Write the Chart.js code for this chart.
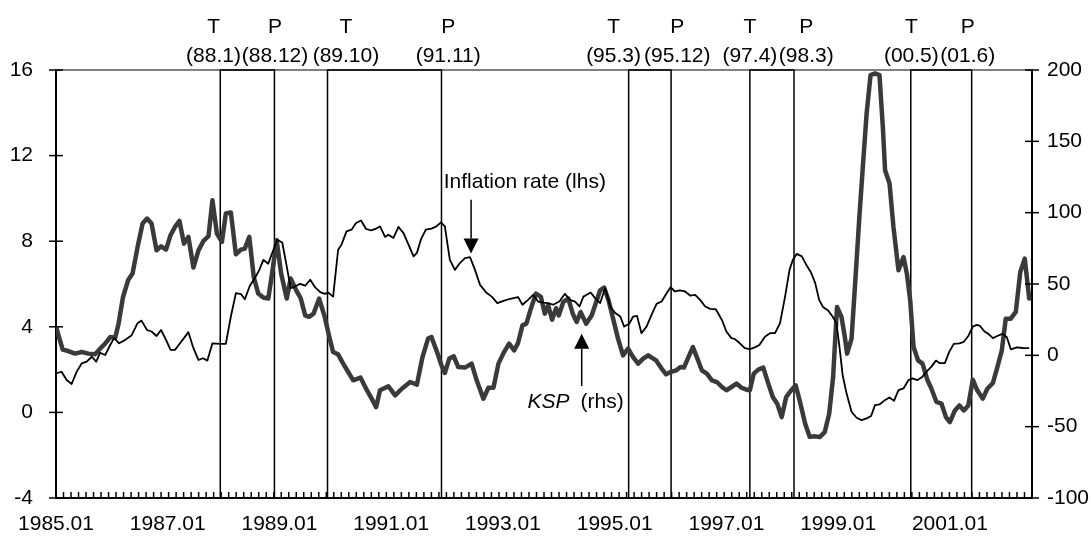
<!DOCTYPE html>
<html>
<head>
<meta charset="utf-8">
<title>Inflation rate and KSP</title>
<script src="https://cdn.jsdelivr.net/npm/chart.js@4.4.1/dist/chart.umd.min.js"></script>
<style>
  html, body { margin: 0; padding: 0; background: #fff; }
  #wrap { width: 1091px; height: 537px; position: relative; }
</style>
</head>
<body>
<div id="wrap"><canvas id="chart"></canvas></div>
<script>
/* Inflation rate (lhs) vs KSP (rhs), 1985.01 - 2002.06
   x values are decimal years */

const INFL_T = [
  1985.01,1985.10,1985.19,1985.28,1985.37,1985.46,1985.55,1985.64,1985.72,1985.79,1985.88,1985.97,
  1986.04,1986.13,1986.24,1986.35,1986.46,1986.53,1986.63,1986.71,1986.80,1986.88,1986.97,
  1987.05,1987.13,1987.22,1987.31,1987.37,1987.46,1987.55,1987.63,1987.71,1987.80,1987.94,
  1988.04,1988.13,1988.22,1988.31,1988.38,1988.47,1988.56,1988.64,1988.71,1988.80,1988.88,1988.96,
  1989.05,1989.13,1989.20,1989.28,1989.37,1989.46,1989.55,1989.64,1989.73,1989.81,1989.87,1989.96,
  1990.05,1990.11,1990.20,1990.29,1990.37,1990.46,1990.55,1990.64,1990.73,1990.80,1990.89,1990.95,
  1991.04,1991.13,1991.22,1991.31,1991.40,1991.46,1991.53,1991.62,1991.72,1991.81,1991.89,1991.96,
  1992.05,1992.14,1992.23,1992.32,1992.41,1992.50,1992.59,1992.70,1992.80,1992.90,
  1993.01,1993.13,1993.27,1993.35,1993.45,1993.54,1993.63,1993.72,1993.81,1993.90,
  1994.01,1994.11,1994.20,1994.29,1994.37,1994.44,1994.57,1994.65,1994.74,1994.83,1994.92,
  1995.01,1995.10,1995.17,1995.26,1995.33,1995.40,1995.48,1995.57,1995.66,1995.75,1995.84,1995.93,
  1996.00,1996.08,1996.17,1996.26,1996.35,1996.44,1996.53,1996.62,1996.71,1996.81,1996.92,
  1997.00,1997.09,1997.15,1997.24,1997.33,1997.42,1997.51,1997.59,1997.69,1997.78,1997.87,1997.96,
  1998.05,1998.13,1998.19,1998.26,1998.35,1998.44,1998.51,1998.59,1998.66,1998.73,1998.82,1998.90,1998.97,
  1999.03,1999.08,1999.15,1999.24,1999.33,1999.42,1999.51,1999.59,1999.66,1999.74,1999.82,1999.92,
  2000.00,2000.08,2000.17,2000.26,2000.33,2000.42,2000.51,2000.60,2000.67,2000.75,2000.82,2000.91,2000.99,
  2001.07,2001.17,2001.25,2001.33,2001.41,2001.48,2001.54,2001.62,2001.69,2001.77,2001.85,2001.94,
  2002.02,2002.09,2002.20,2002.31,2002.42
];
const INFL_V = [
  1.83,1.90,1.51,1.33,1.90,2.29,2.37,2.60,2.37,2.79,2.68,3.15,
  3.47,3.23,3.39,3.59,4.17,4.29,3.85,3.78,3.57,3.85,3.39,
  2.92,2.92,3.23,3.54,3.75,3.00,2.45,2.53,2.42,3.23,3.20,
  3.20,4.48,5.57,5.53,5.29,5.92,6.28,6.66,7.13,6.95,7.52,8.07,
  7.94,6.82,5.81,5.88,6.01,5.92,6.20,5.84,5.62,5.54,5.60,5.41,
  7.60,7.84,8.46,8.54,8.85,8.97,8.57,8.51,8.59,8.69,8.20,8.30,
  8.15,8.67,8.38,7.84,7.29,7.45,8.07,8.54,8.59,8.69,8.88,8.69,
  7.13,6.66,6.98,7.21,7.26,6.66,5.96,5.60,5.41,5.11,
  5.21,5.31,5.39,5.03,5.26,5.49,5.18,5.13,5.11,5.03,
  5.18,5.54,5.26,5.18,4.95,5.41,5.60,5.34,5.11,5.81,4.95,
  4.64,4.48,4.01,4.14,4.48,4.51,3.70,4.01,4.56,5.07,5.18,5.57,
  5.85,5.65,5.70,5.65,5.46,5.49,5.26,4.95,4.84,4.82,4.32,
  3.78,3.47,3.43,3.23,3.00,2.96,3.04,3.15,3.54,3.70,3.70,4.17,
  5.41,6.66,7.13,7.41,7.29,6.85,6.56,6.04,5.26,4.92,4.76,4.48,4.17,
  2.92,1.75,0.89,0.03,-0.25,-0.36,-0.28,-0.17,0.34,0.37,0.54,0.70,
  0.54,1.04,1.12,1.51,1.59,1.51,1.67,1.95,2.14,2.42,2.30,2.30,2.84,
  3.20,3.23,3.30,3.57,4.01,4.09,4.04,3.78,3.67,3.47,3.57,3.67,
  3.51,2.95,3.04,3.01,3.00
];

const KSP_T = [
  1985.01,1985.12,1985.22,1985.34,1985.46,1985.58,1985.70,1985.79,1985.88,1985.97,
  1986.06,1986.12,1986.20,1986.29,1986.37,1986.46,1986.55,1986.63,1986.71,1986.80,1986.88,1986.97,
  1987.05,1987.13,1987.21,1987.29,1987.37,1987.46,1987.55,1987.64,1987.73,1987.80,1987.88,1987.97,
  1988.04,1988.13,1988.22,1988.31,1988.38,1988.46,1988.54,1988.62,1988.71,1988.80,1988.88,1988.95,
  1989.03,1989.13,1989.20,1989.30,1989.38,1989.46,1989.53,1989.61,1989.71,1989.81,1989.90,1989.96,
  1990.05,1990.14,1990.23,1990.32,1990.45,1990.56,1990.65,1990.73,1990.80,1990.95,
  1991.07,1991.19,1991.34,1991.46,1991.56,1991.66,1991.72,1991.81,1991.90,1991.96,
  1992.04,1992.12,1992.20,1992.32,1992.44,1992.53,1992.65,1992.74,1992.83,1992.92,
  1993.02,1993.11,1993.20,1993.27,1993.35,1993.42,1993.50,1993.59,1993.68,1993.75,1993.81,1993.88,1993.95,1994.00,
  1994.08,1994.17,1994.25,1994.32,1994.39,1994.49,1994.59,1994.68,1994.74,1994.81,1994.89,1994.98,
  1995.06,1995.15,1995.24,1995.33,1995.42,1995.51,1995.60,1995.74,1995.84,1995.92,
  1996.00,1996.10,1996.18,1996.24,1996.32,1996.40,1996.47,1996.56,1996.65,1996.74,1996.83,1996.92,
  1997.00,1997.09,1997.18,1997.27,1997.36,1997.42,1997.49,1997.57,1997.66,1997.75,1997.83,1997.91,1997.99,
  1998.07,1998.15,1998.24,1998.32,1998.41,1998.49,1998.59,1998.67,1998.76,1998.84,1998.91,1998.98,
  1999.06,1999.12,1999.16,1999.24,1999.30,1999.38,1999.45,1999.51,1999.58,1999.66,1999.74,1999.80,1999.84,1999.92,1999.99,
  2000.08,2000.17,2000.23,2000.29,2000.35,2000.43,2000.51,2000.60,2000.67,2000.76,2000.85,2000.93,
  2001.00,2001.09,2001.17,2001.25,2001.33,2001.41,2001.49,2001.59,2001.67,2001.77,2001.85,2001.93,
  2002.00,2002.09,2002.18,2002.26,2002.34,2002.42
];
const KSP_V = [
  18.7,4.0,3.0,1.2,2.3,1.2,0.7,4.7,8.2,12.8,
  12.4,22.2,40.9,52.6,57.3,75.9,92.4,95.9,92.4,73.6,76.4,74.1,
  84.2,90.0,94.2,78.3,83.0,61.5,73.6,80.2,83.5,108.7,85.3,79.5,
  99.4,100.1,70.8,74.1,74.8,83.0,54.9,43.3,40.5,39.8,60.8,80.6,
  57.3,39.8,53.8,45.6,40.0,28.0,27.0,29.2,39.8,26.9,11.7,2.3,
  0.7,-5.8,-11.7,-17.5,-15.6,-24.1,-30.4,-36.3,-24.5,-21.7,
  -28.1,-23.4,-18.7,-20.5,-1.2,11.7,12.8,3.5,-7.0,-12.4,
  -2.3,-0.7,-8.2,-8.6,-5.8,-17.5,-30.4,-22.7,-22.7,-5.8,
  2.3,8.2,3.5,8.6,21.0,22.2,32.7,43.3,40.9,29.2,35.0,25.0,33.0,28.0,
  37.4,39.8,29.2,23.4,30.4,22.2,28.1,38.6,45.6,47.5,38.6,24.5,
  11.7,0.0,4.7,-1.2,-5.8,-2.3,0.0,-3.5,-9.3,-13.3,
  -11.7,-10.5,-8.2,-8.6,-1.2,5.8,-1.2,-10.5,-12.8,-17.5,-18.7,-22.2,
  -24.5,-22.2,-19.8,-22.7,-24.1,-24.5,-12.8,-10.0,-8.6,-19.8,-29.2,-33.9,-43.3,
  -29.2,-25.0,-21.0,-33.0,-48.0,-57.0,-56.8,-57.3,-53.8,-40.9,-15.2,33.9,
  26.9,12.8,1.2,11.7,47.9,97.0,136.7,169.5,196.4,197.6,196.4,160.1,129.7,120.4,90.0,
  59.6,68.9,57.3,38.6,5.8,-3.5,-5.8,-17.5,-23.4,-32.7,-33.9,-43.3,
  -46.8,-38.6,-35.1,-38.6,-35.1,-17.1,-24.5,-30.4,-23.4,-19.4,-8.2,3.5,
  25.7,25.7,30.4,58.4,67.8,39.8
];

/* turning points: box edges (decimal years) and their labels */
const BOX_START   = [1987.94, 1989.86, 1995.25, 1997.42, 2000.30];
const BOX_END     = [1988.91, 1991.90, 1996.01, 1998.21, 2001.39];
const TROUGH_TEXT = ["(88.1)", "(89.10)", "(95.3)", "(97.4)", "(00.5)"];
const PEAK_TEXT   = ["(88.12)", "(91.11)", "(95.12)", "(98.3)", "(01.6)"];

const X_LABEL_YEARS = [1985, 1987, 1989, 1991, 1993, 1995, 1997, 1999, 2001];

/* ── placement of the text above the boxes (years) ── */
const TROUGH_AT = [1987.82, 1990.19, 1994.98, 1997.42, 2000.31];
const PEAK_AT   = [1988.92, 1992.02, 1996.12, 1998.43, 2001.32];

const FONT = "'Liberation Sans', Arial, sans-serif";
const FS   = 21;
const MINOR_TICKS = 130;

const pts = (xs, ys) => xs.map((t, i) => ({ x: t, y: ys[i] }));

function seg(ctx, x0, y0, x1, y1) {
  ctx.beginPath();
  ctx.moveTo(x0, y0);
  ctx.lineTo(x1, y1);
  ctx.stroke();
}

function arrow(ctx, px, yFrom, yTip) {
  const dir = yTip > yFrom ? 1 : -1;
  const head = 15, half = 7.5;
  ctx.lineWidth = 1.5;
  seg(ctx, px, yFrom, px, yTip - dir * head);
  ctx.beginPath();
  ctx.moveTo(px, yTip);
  ctx.lineTo(px - half, yTip - dir * head);
  ctx.lineTo(px + half, yTip - dir * head);
  ctx.closePath();
  ctx.fill();
}

/* ── frame top, turning point boxes ── */
const boxes = {
  id: "boxes",
  beforeDatasetsDraw(chart) {
    const { ctx, chartArea: a, scales: { x } } = chart;
    ctx.save();
    ctx.strokeStyle = "#808080";
    ctx.lineWidth = 2;
    seg(ctx, a.left, a.top, a.right, a.top);
    ctx.strokeStyle = "#000";
    ctx.lineWidth = 1.5;
    BOX_START.forEach((s, i) => {
      const x0 = x.getPixelForValue(s);
      const x1 = x.getPixelForValue(BOX_END[i]);
      ctx.strokeRect(x0, a.top, x1 - x0, a.bottom - a.top);
    });
    ctx.restore();
  },
};

/* ── tick marks and annotations ── */
const marks = {
  id: "marks",
  afterDraw(chart) {
    const { ctx, chartArea: a, scales: { x, y, y1 } } = chart;
    ctx.save();
    ctx.strokeStyle = "#000";
    ctx.fillStyle = "#000";
    ctx.lineWidth = 1.5;

    y.ticks.forEach(t => {
      const py = y.getPixelForValue(t.value);
      seg(ctx, a.left - 7, py, a.left + 7, py);
    });
    y1.ticks.forEach(t => {
      const py = y1.getPixelForValue(t.value);
      seg(ctx, a.right - 7, py, a.right + 7, py);
    });
    for (let i = 0; i <= MINOR_TICKS; i++) {
      const px = x.getPixelForValue(x.min + i * (x.max - x.min) / MINOR_TICKS);
      seg(ctx, px, a.bottom, px, a.bottom - 6);
    }

    ctx.font = `${FS}px ${FONT}`;
    ctx.textAlign = "center";
    ctx.textBaseline = "alphabetic";
    TROUGH_AT.forEach((t, i) => {
      const px = x.getPixelForValue(t);
      ctx.fillText("T", px, a.top - 37);
      ctx.fillText(TROUGH_TEXT[i], px, a.top - 8.5);
    });
    PEAK_AT.forEach((t, i) => {
      const px = x.getPixelForValue(t);
      ctx.fillText("P", px, a.top - 37);
      ctx.fillText(PEAK_TEXT[i], px, a.top - 8.5);
    });

    ctx.textAlign = "left";
    ctx.fillText("Inflation rate (lhs)", x.getPixelForValue(1991.94), y.getPixelForValue(10.5));
    arrow(ctx, x.getPixelForValue(1992.43), y.getPixelForValue(9.94), y.getPixelForValue(7.42));

    const kx = x.getPixelForValue(1993.44), ky = y.getPixelForValue(0.2);
    ctx.font = `italic ${FS}px ${FONT}`;
    ctx.fillText("KSP", kx, ky);
    const kw = ctx.measureText("KSP").width;
    ctx.font = `${FS}px ${FONT}`;
    ctx.fillText("(rhs)", kx + kw + 11, ky);
    arrow(ctx, x.getPixelForValue(1994.41), y.getPixelForValue(1.23), y.getPixelForValue(3.67));

    ctx.restore();
  },
};

const tickFont = { family: FONT, size: FS };

new Chart(document.getElementById("chart"), {
  type: "line",
  data: {
    datasets: [
      {
        label: "Inflation rate (lhs)",
        data: pts(INFL_T, INFL_V),
        yAxisID: "y",
        borderColor: "#000",
        borderWidth: 1.8,
        pointRadius: 0,
        tension: 0,
        borderJoinStyle: "round",
        order: 0,
      },
      {
        label: "KSP (rhs)",
        data: pts(KSP_T, KSP_V),
        yAxisID: "y1",
        borderColor: "#3a3a3a",
        borderWidth: 4.5,
        pointRadius: 0,
        tension: 0,
        borderJoinStyle: "round",
        borderCapStyle: "round",
        order: 1,
      },
    ],
  },
  options: {
    responsive: true,
    maintainAspectRatio: false,
    animation: false,
    layout: { padding: { top: 70, left: 0, right: 0, bottom: 0 } },
    plugins: { legend: { display: false }, tooltip: { enabled: false } },
    scales: {
      x: {
        type: "linear",
        min: 1985,
        max: 2002.47,
        afterBuildTicks: s => { s.ticks = X_LABEL_YEARS.map(v => ({ value: v })); },
        afterFit: s => { s.height = 39; },
        ticks: {
          callback: v => v + ".01",
          color: "#000",
          font: tickFont,
          padding: 14,
          maxRotation: 0,
          autoSkip: false,
        },
        grid: { display: false, drawTicks: false },
        border: { color: "#000", width: 2 },
      },
      y: {
        position: "left",
        min: -4,
        max: 16,
        afterFit: s => { s.width = 56; },
        ticks: { stepSize: 4, color: "#000", font: tickFont, padding: 23 },
        grid: { display: false, drawTicks: false },
        border: { color: "#000", width: 2 },
      },
      y1: {
        position: "right",
        min: -100,
        max: 200,
        afterFit: s => { s.width = 59; },
        ticks: { stepSize: 50, color: "#000", font: tickFont, padding: 15 },
        grid: { display: false, drawTicks: false },
        border: { color: "#000", width: 2 },
      },
    },
  },
  plugins: [boxes, marks],
});
</script>
</body>
</html>
